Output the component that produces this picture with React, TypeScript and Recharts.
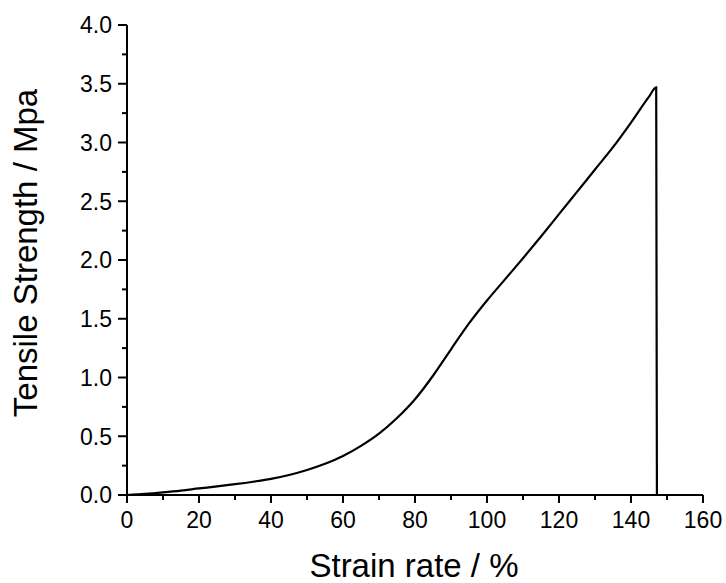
import { LineChart, Line, XAxis, YAxis } from 'recharts';

const strain = [0, 5, 10, 15, 20, 25, 30, 35, 40, 45, 50, 55, 60, 65, 70, 75, 80, 85, 90, 95, 100, 105, 110, 115, 120, 125, 130, 135, 140, 145, 147, 147.2];
const stress = [0, 0.01, 0.023, 0.038, 0.056, 0.073, 0.092, 0.113, 0.137, 0.17, 0.213, 0.266, 0.332, 0.418, 0.522, 0.655, 0.815, 1.015, 1.24, 1.46, 1.655, 1.835, 2.015, 2.2, 2.39, 2.58, 2.77, 2.96, 3.17, 3.39, 3.47, 0];

const xTicks = [0, 10, 20, 30, 40, 50, 60, 70, 80, 90, 100, 110, 120, 130, 140, 150, 160];
const yTicks = [0, 0.25, 0.5, 0.75, 1, 1.25, 1.5, 1.75, 2, 2.25, 2.5, 2.75, 3, 3.25, 3.5, 3.75, 4];

const data = strain.map((x, i) => ({ x, y: stress[i] }));

const FONT = '"Liberation Sans", Arial, sans-serif';

const XTick = (props: any) => {
  const { x, y, payload } = props;
  const major = payload.value % 20 === 0;
  return (
    <g>
      <line x1={x} y1={y} x2={x} y2={y + (major ? 8 : 5)} stroke="#000" strokeWidth={2} />
      {major && (
        <text x={x} y={y + 33} textAnchor="middle" fontSize={23} fill="#000" fontFamily={FONT}>
          {payload.value}
        </text>
      )}
    </g>
  );
};

const YTick = (props: any) => {
  const { x, y, payload } = props;
  const major = Math.round(payload.value * 100) % 50 === 0;
  return (
    <g>
      <line x1={x - (major ? 9 : 5)} y1={y} x2={x} y2={y} stroke="#000" strokeWidth={2} />
      {major && (
        <text x={x - 15} y={y} dy="0.36em" textAnchor="end" fontSize={23} fill="#000" fontFamily={FONT}>
          {payload.value.toFixed(1)}
        </text>
      )}
    </g>
  );
};

export default function App() {
  return (
    <div style={{ fontFamily: FONT, position: 'absolute', left: 0, top: 0 }}>
      <LineChart width={726} height={583} data={data} margin={{ top: 25, right: 23, left: 0, bottom: 0 }}>
        <XAxis
          dataKey="x"
          type="number"
          domain={[0, 160]}
          ticks={xTicks}
          interval={0}
          tickSize={0}
          tickMargin={0}
          tickLine={false}
          tick={<XTick />}
          height={88}
          axisLine={{ stroke: '#000', strokeWidth: 2 }}
          label={{
            content: () => (
              <text x={414} y={577} textAnchor="middle" fontSize={33} fill="#000" fontFamily={FONT}>
                Strain rate / %
              </text>
            ),
          }}
        />
        <YAxis
          type="number"
          domain={[0, 4]}
          ticks={yTicks}
          interval={0}
          tickSize={0}
          tickMargin={0}
          tickLine={false}
          tick={<YTick />}
          width={127}
          axisLine={{ stroke: '#000', strokeWidth: 2 }}
          label={{
            content: () => (
              <text
                x={37}
                y={253}
                textAnchor="middle"
                fontSize={33}
                fill="#000"
                fontFamily={FONT}
                transform="rotate(-90 37 253)"
              >
                Tensile Strength / Mpa
              </text>
            ),
          }}
        />
        <Line type="monotone" dataKey="y" stroke="#000" strokeWidth={2.2} dot={false} isAnimationActive={false} />
      </LineChart>
    </div>
  );
}
